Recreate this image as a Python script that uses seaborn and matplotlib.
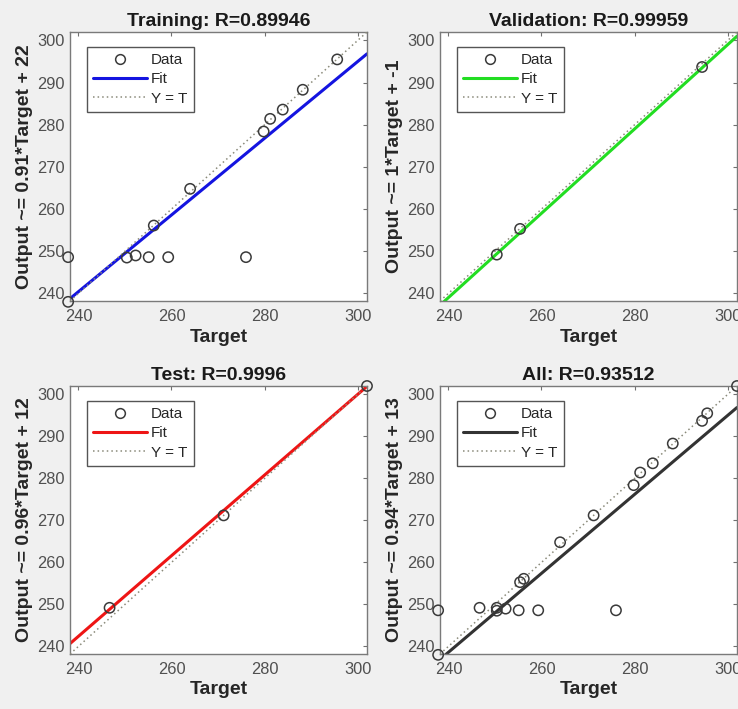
import numpy as np
import pandas as pd
import matplotlib
matplotlib.use("Agg")
import matplotlib.pyplot as plt
import seaborn as sns
from matplotlib.lines import Line2D

# ---------------- data ----------------
train_target = [237.8, 237.8, 250.4, 252.3, 255.1, 259.3, 276.0, 256.2, 264.0, 279.8, 281.2, 283.9, 288.2, 295.6]
train_output = [248.6, 238.0, 248.5, 249.0, 248.6, 248.6, 248.6, 256.1, 264.8, 278.4, 281.4, 283.6, 288.3, 295.5]

val_target = [250.4, 255.4, 294.5]
val_output = [249.2, 255.3, 293.7]

test_target = [246.7, 271.2, 302.0]
test_output = [249.2, 271.2, 302.0]

all_target = train_target + val_target + test_target
all_output = train_output + val_output + test_output

titles = ["Training: R=0.89946", "Validation: R=0.99959", "Test: R=0.9996", "All: R=0.93512"]
ylabels = ["Output ~= 0.91*Target + 22", "Output ~= 1*Target + -1",
           "Output ~= 0.96*Target + 12", "Output ~= 0.94*Target + 13"]
fit_slope = [0.91, 1.0, 0.96, 0.94]
fit_intercept = [22, -1, 12, 13]
fit_colors = ["#1414e0", "#22dd22", "#ee1515", "#333333"]

xticks = [240, 260, 280, 300]
yticks = [240, 250, 260, 270, 280, 290, 300]
axis_lim = (238.2, 302.0)

# ---------------- style ----------------
sns.set_style("white")
plt.rcParams["font.family"] = ["Liberation Sans", "DejaVu Sans"]

fig = plt.figure(figsize=(7.38, 7.09), dpi=100, facecolor="#f0f0f0")

positions = [
    [70 / 738, 1 - 301 / 709, 297 / 738, 269 / 709],
    [440 / 738, 1 - 301 / 709, 297 / 738, 269 / 709],
    [70 / 738, 1 - 654 / 709, 297 / 738, 268 / 709],
    [440 / 738, 1 - 654 / 709, 297 / 738, 268 / 709],
]

datasets = [
    (train_target, train_output),
    (val_target, val_output),
    (test_target, test_output),
    (all_target, all_output),
]

for i in range(4):
    ax = fig.add_axes(positions[i])
    ax.set_facecolor("white")
    tx, ty = datasets[i]
    df = pd.DataFrame({"Target": tx, "Output": ty})

    lo, hi = axis_lim
    line_x = np.array([lo, hi])
    fit_df = pd.DataFrame({"x": line_x, "y": fit_slope[i] * line_x + fit_intercept[i]})
    id_df = pd.DataFrame({"x": line_x, "y": line_x})

    sns.lineplot(data=fit_df, x="x", y="y", ax=ax, color=fit_colors[i], linewidth=2.2, zorder=2)
    sns.lineplot(data=id_df, x="x", y="y", ax=ax, color="#8a8a7a", linewidth=1.1,
                 linestyle=(0, (1, 2)), zorder=3)
    sns.scatterplot(data=df, x="Target", y="Output", ax=ax, marker="o", s=55,
                    facecolors="none", edgecolor="#3a3a3a", linewidth=1.1, zorder=4)
    for coll in ax.collections:
        coll.set_clip_on(False)

    ax.set_xlim(lo, hi)
    ax.set_ylim(lo, hi)
    ax.set_xticks(xticks)
    ax.set_yticks(yticks)
    ax.tick_params(axis="both", direction="in", length=3, width=0.8, color="#707070",
                   labelcolor="#505050", labelsize=11.8, top=True, right=True)
    ax.tick_params(axis="x", pad=6)
    ax.tick_params(axis="y", pad=4)
    for sp in ax.spines.values():
        sp.set_color("#7a7a7a")
        sp.set_linewidth(1.0)

    ax.set_title(titles[i], fontsize=14, fontweight="bold", color="#1a1a1a", pad=4)
    ax.set_xlabel("Target", fontsize=14, fontweight="bold", color="#262626", labelpad=3)
    ax.set_ylabel(ylabels[i], fontsize=14, fontweight="bold", color="#262626", labelpad=3)

    handles = [
        Line2D([], [], linestyle="none", marker="o", markersize=7, markerfacecolor="none",
               markeredgecolor="#3a3a3a", markeredgewidth=1.1),
        Line2D([], [], color=fit_colors[i], linewidth=2.2),
        Line2D([], [], color="#8a8a7a", linewidth=1.1, linestyle=(0, (1, 2))),
    ]
    leg = ax.legend(handles, ["Data", "Fit", "Y = T"], loc="upper left",
                    bbox_to_anchor=(17 / 297, 1 - 15 / 269), borderaxespad=0,
                    fontsize=11, handlelength=3.5, handletextpad=0.3,
                    labelspacing=0.35, borderpad=0.4, fancybox=False, framealpha=1)
    leg.get_frame().set_edgecolor("#555555")
    leg.get_frame().set_linewidth(1.0)
    for t in leg.get_texts():
        t.set_color("#262626")

fig.savefig("out.png", dpi=100, facecolor=fig.get_facecolor())
